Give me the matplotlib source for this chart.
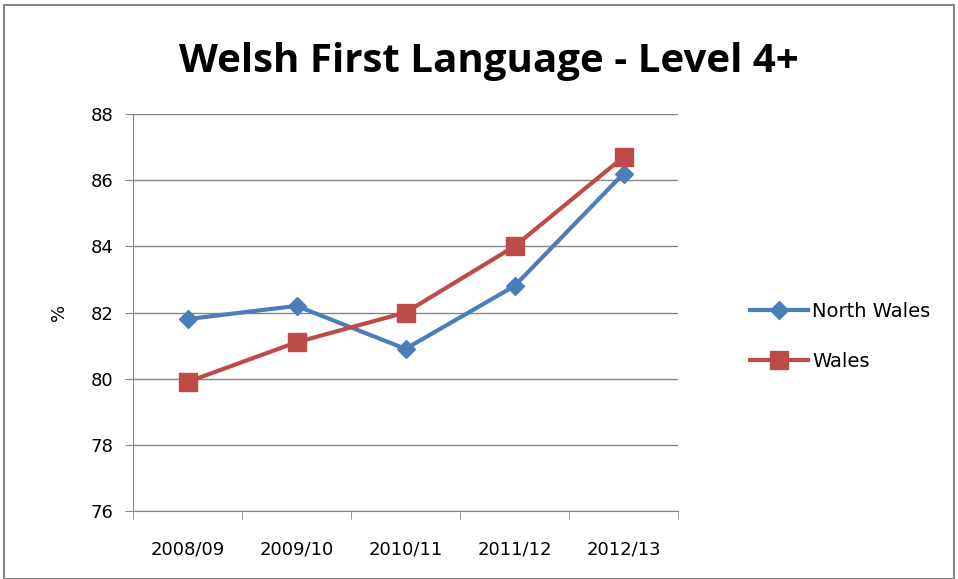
import numpy as np
import matplotlib.pyplot as plt
from matplotlib.patches import Rectangle

# data
years = ['2008/09', '2009/10', '2010/11', '2011/12', '2012/13']
north_wales = [81.8, 82.2, 80.9, 82.8, 86.2]
wales = [79.9, 81.1, 82.0, 84.0, 86.7]

fig = plt.figure(figsize=(9.58, 5.79), dpi=100)
ax = fig.add_axes([133 / 958, 1 - 511 / 579, 545 / 958, 397 / 579])

x = np.arange(len(years))
ax.plot(x, north_wales, color='#4A7EBB', linewidth=3, marker='D',
        markersize=9, label='North Wales', zorder=3)
ax.plot(x, wales, color='#BE4B48', linewidth=3, marker='s',
        markersize=13, label='Wales', zorder=3)

ax.set_xlim(-0.5, len(years) - 0.5)
ax.set_ylim(76, 88)
ax.set_yticks(np.arange(76, 89, 2))
ax.set_xticks(x)
ax.set_xticklabels(years, fontsize=13)
ax.set_xticks(np.arange(-0.5, len(years)), minor=True)
ax.tick_params(axis='x', which='major', length=0, pad=21)
ax.tick_params(axis='x', which='minor', length=6, color='#868686')
ax.tick_params(axis='y', length=6, color='#868686', labelsize=13, pad=8)
ax.grid(axis='y', color='#868686', linewidth=1)
ax.set_axisbelow(True)
for s in ['top', 'right']:
    ax.spines[s].set_visible(False)
for s in ['left', 'bottom']:
    ax.spines[s].set_color('#868686')
ax.set_ylabel('%', fontsize=13, labelpad=16)

fig.text(0.51, 0.893, 'Welsh First Language - Level 4+', ha='center', va='center',
         fontsize=29, fontweight='bold', family='Open Sans')

ax.legend(loc='center left', bbox_to_anchor=(1.1, 0.44), frameon=False,
          fontsize=14, handlelength=3, labelspacing=1.6, handletextpad=0.2)

fig.patches.append(Rectangle((4 / 958, 0), 950 / 958, 1 - 5 / 579,
                             transform=fig.transFigure, fill=False,
                             edgecolor='#868686', linewidth=1.5))

fig.savefig('out.png', dpi=100)
